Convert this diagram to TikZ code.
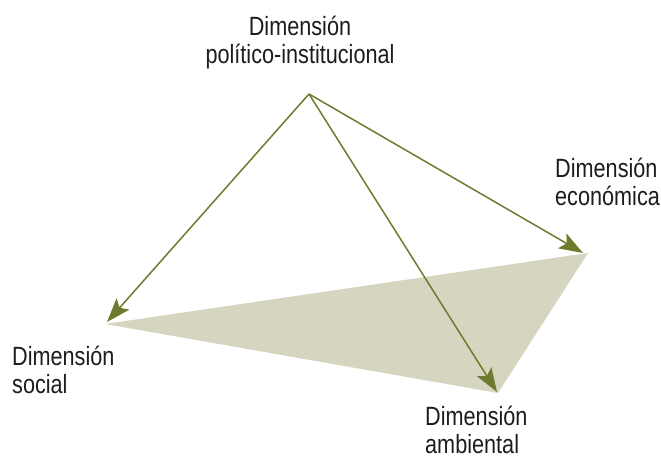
\documentclass[tikz,border=0pt]{standalone}
\usepackage{fontspec}
\setmainfont[FakeStretch=0.82]{Liberation Sans}
\usetikzlibrary{arrows.meta}
\definecolor{olive}{HTML}{6E7B2F}
\definecolor{plane}{HTML}{D5D5C0}
\definecolor{txt}{HTML}{1E1C1C}
\begin{document}
\begin{tikzpicture}[x=1bp,y=-1bp,
  lbl/.style={inner sep=0pt, text=txt, font=\fontsize{26.5}{27.5}\selectfont},
  link/.style={draw=olive, line width=1.5bp, -{Stealth[length=24bp,width=17bp,inset=5bp]}}]
\useasboundingbox (0,0) rectangle (661,459);
% vertices
\coordinate (apex) at (309,94);
\coordinate (soc) at (105,324);
\coordinate (eco) at (588,253);
\coordinate (amb) at (498,393);
\fill[plane] (soc) -- (eco) -- (amb) -- cycle;
% labels
\node[lbl, align=center, anchor=north] (tpol) at (300,16) {Dimensión\\político-institucional};
\node[lbl, align=left, anchor=north west] (tsoc) at (12,346) {Dimensión\\social};
\node[lbl, align=left, anchor=north west] (tamb) at (425,406) {Dimensión\\ambiental};
\node[lbl, align=left, anchor=north west] (teco) at (555,158) {Dimensión\\económica};
% arrows
\coordinate (esoc) at (107,322);
\coordinate (eeco) at (583,253);
\coordinate (eamb) at (497,392);
\draw[link] (apex) -- (esoc);
\draw[link] (apex) -- (eeco);
\draw[link] (apex) -- (eamb);
\end{tikzpicture}
\end{document}
